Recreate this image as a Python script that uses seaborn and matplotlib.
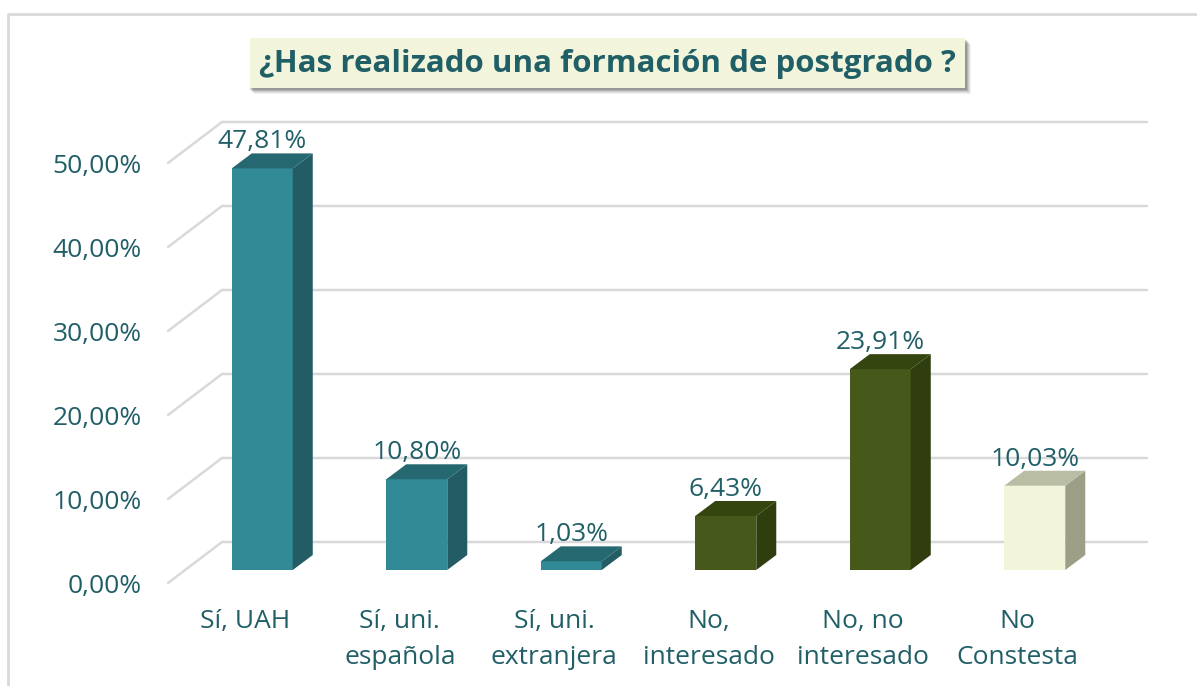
import numpy as np
import pandas as pd
import seaborn as sns
import matplotlib
matplotlib.use("Agg")
import matplotlib.pyplot as plt
from matplotlib.patches import Polygon, Rectangle
from matplotlib.lines import Line2D
import matplotlib.transforms as mtransforms

# ---------------- data ----------------
categories = ["Sí, UAH", "Sí, uni.\nespañola", "Sí, uni.\nextranjera",
              "No,\ninteresado", "No, no\ninteresado", "No\nConstesta"]
values = [47.81, 10.80, 1.03, 6.43, 23.91, 10.03]
y_ticks = [0, 10, 20, 30, 40, 50]
title = "¿Has realizado una formación de postgrado ?"

front_colors = ["#328A97", "#328A97", "#328A97", "#46591A", "#46591A", "#F2F5DA"]
side_colors = ["#235C64", "#235C64", "#235C64", "#2F3D0F", "#2F3D0F", "#9C9E86"]
top_colors = ["#266870", "#266870", "#266870", "#35450F", "#35450F", "#B9BDA3"]
text_color = "#215F67"
grid_color = "#D9D9D9"

# ---------------- figure ----------------
W, H, DPI = 1197, 686, 100
sns.set_theme(style="white")
plt.rcParams["font.family"] = ["Open Sans", "DejaVu Sans"]

fig = plt.figure(figsize=(W / DPI, H / DPI), dpi=DPI)
fig.patch.set_facecolor("white")


def fx(px):
    return px / W


def fy(py):
    return 1 - py / H


left_px, right_px = 168, 1095
zero_px, top_px = 583, 163
ax = fig.add_axes([fx(left_px), fy(zero_px), (right_px - left_px) / W, (zero_px - top_px) / H])
ax.set_facecolor("none")

df = pd.DataFrame({"cat": categories, "val": values})
pal = dict(zip(categories, front_colors))
sns.barplot(data=df, x="cat", y="val", hue="cat", palette=pal, width=0.395,
            saturation=1, legend=False, ax=ax, edgecolor="none", linewidth=0)
ax.set_xlim(-0.5, 5.5)
ax.set_ylim(0, 50)
for s in ax.spines.values():
    s.set_visible(False)
ax.set_xlabel("")
ax.set_ylabel("")

# depth geometry (pixels)
bar_shift = mtransforms.ScaledTranslation(17 / DPI, 13 / DPI, fig.dpi_scale_trans)
bar_dx, bar_dy = 20, 15
wall_dx, wall_dy = 54, 41
wall_right = 1147
ident = mtransforms.IdentityTransform()

# back wall gridlines
for t in y_ticks:
    X, Y = ax.transData.transform((-0.5, t))
    ax.add_line(Line2D([X, X + wall_dx, wall_right], [Y, Y + wall_dy, Y + wall_dy],
                       transform=ident, color=grid_color, lw=1.8, zorder=1, clip_on=False))

# bars with 3D faces
patches = sorted(ax.patches, key=lambda p: p.get_x())
btrans = ax.transData + bar_shift
for i, p in enumerate(patches):
    p.set_transform(btrans)
    p.set_clip_on(False)
    p.set_zorder(3)
    x0 = p.get_x()
    x1 = x0 + p.get_width()
    h = p.get_height()
    X0, Y0 = btrans.transform((x0, 0))
    X1, Yh = btrans.transform((x1, h))
    side = Polygon([(X1, Y0), (X1 + bar_dx, Y0 + bar_dy), (X1 + bar_dx, Yh + bar_dy), (X1, Yh)],
                   closed=True, transform=ident, facecolor=side_colors[i], edgecolor="none",
                   zorder=3, clip_on=False)
    top = Polygon([(X0, Yh), (X1, Yh), (X1 + bar_dx, Yh + bar_dy), (X0 + bar_dx, Yh + bar_dy)],
                  closed=True, transform=ident, facecolor=top_colors[i], edgecolor="none",
                  zorder=3, clip_on=False)
    ax.add_patch(side)
    ax.add_patch(top)
    lab = f"{values[i]:.2f}".replace(".", ",") + "%"
    ax.annotate(lab, xy=((x0 + x1) / 2, h), xycoords=btrans, xytext=(0, bar_dy - 1),
                textcoords="offset pixels", ha="center", va="bottom",
                fontsize=19, color=text_color, zorder=4)

# ticks
ax.set_yticks(y_ticks)
ax.set_yticklabels([f"{t:.2f}".replace(".", ",") + "%" for t in y_ticks])
ax.set_xticks(range(len(categories)))
ax.set_xticklabels(categories, linespacing=1.55)
ax.tick_params(axis="y", length=0, pad=19, labelsize=19, labelcolor=text_color)
ax.tick_params(axis="x", length=0, pad=19, labelsize=19, labelcolor=text_color)

# outer border (partially cut off)
fig.add_artist(Line2D([fx(8), fx(8), 1.0], [0, fy(14), fy(14)], transform=fig.transFigure,
                      color=grid_color, lw=2))

# title box with shadow
bx0, by0, bx1, by1 = 250, 38, 965, 88
for k, a in enumerate([0.05, 0.07, 0.09, 0.12, 0.15]):
    off = 6 - k
    fig.add_artist(Rectangle((fx(bx0 + off - 2), fy(by1 + off)), (bx1 - bx0 + 2) / W,
                             (by1 - by0) / H, transform=fig.transFigure,
                             facecolor="black", alpha=a, edgecolor="none"))
fig.add_artist(Rectangle((fx(bx0), fy(by1)), (bx1 - bx0) / W, (by1 - by0) / H,
                         transform=fig.transFigure, facecolor="#F2F5DC", edgecolor="none"))
fig.text(fx((bx0 + bx1) / 2), fy((by0 + by1) / 2 + 1), title, ha="center", va="center",
         fontsize=22.5, fontweight="bold", color=text_color)

fig.savefig("out.png", dpi=DPI, facecolor="white")
